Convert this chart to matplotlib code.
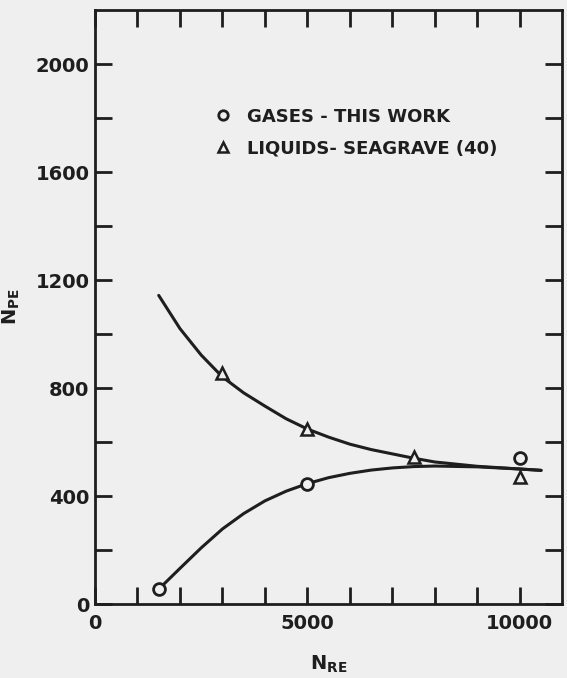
import matplotlib
matplotlib.use("Agg")
import matplotlib.pyplot as plt

# Data
gas_x = [1500, 5000, 10000]
gas_y = [55, 445, 540]
liq_x = [3000, 5000, 7500, 10000]
liq_y = [856, 648, 543, 471]

# Hand-drawn curves
upper_x = [1500, 2000, 2500, 3000, 3500, 4000, 4500, 5000, 5500, 6000, 6500, 7000, 7500, 8000, 9000, 10000, 10500]
upper_y = [1143, 1020, 922, 841, 782, 733, 686, 648, 618, 592, 572, 556, 540, 526, 510, 500, 495]
lower_x = [1500, 2000, 2500, 3000, 3500, 4000, 4500, 5000, 5500, 6000, 6500, 7000, 7500, 8000, 9000, 10000, 10500]
lower_y = [55, 132, 208, 278, 335, 382, 418, 446, 468, 484, 496, 504, 509, 511, 508, 500, 495]

xticks = [0, 5000, 10000]
yticks = [0, 400, 800, 1200, 1600, 2000]

ink = "#1e1e1e"
bg = "#efefef"
plt.rcParams['font.family'] = ['DejaVu Sans']

fig = plt.figure(figsize=(5.67, 6.78), dpi=100, facecolor=bg)
ax = fig.add_axes([95/567, 1 - 604/678, (561.5 - 95)/567, (604 - 9.5)/678])
ax.set_facecolor(bg)

ax.plot(upper_x, upper_y, color=ink, lw=2.2, solid_capstyle='round',
        solid_joinstyle='round', zorder=2)
ax.plot(lower_x, lower_y, color=ink, lw=2.2, solid_capstyle='round',
        solid_joinstyle='round', zorder=2)

ax.plot(gas_x, gas_y, linestyle='none', marker='o', ms=8.5, mfc=bg, mec=ink, mew=2.0,
        label='GASES - THIS WORK', zorder=3)
ax.plot(liq_x, liq_y, linestyle='none', marker='^', ms=8.5, mfc=bg, mec=ink, mew=1.8,
        label='LIQUIDS- SEAGRAVE (40)', zorder=3)

ax.set_xlim(0, 10980)
ax.set_ylim(0, 2202)

for s in ax.spines.values():
    s.set_color(ink)
    s.set_linewidth(2.0)

ax.set_xticks(xticks)
ax.set_xticks(range(1000, 11000, 1000), minor=True)
ax.set_yticks(yticks)
ax.set_yticks(range(200, 2200, 400), minor=True)
ax.set_xticklabels(['0', '5000', '10000'])
ax.set_yticklabels(['0', '400', '800', '1200', '1600', '2000'])

ax.tick_params(axis='both', which='both', direction='in', top=True, right=True,
               color=ink, width=2.0)
ax.tick_params(axis='both', which='major', length=12, labelsize=14, labelcolor=ink)
ax.tick_params(axis='both', which='minor', length=12)
ax.tick_params(axis='x', which='major', pad=7)
ax.tick_params(axis='y', which='major', pad=4)
for lbl in ax.get_xticklabels() + ax.get_yticklabels():
    lbl.set_fontweight('bold')

ax.set_xlabel(r'N$_{\mathbf{RE}}$', fontsize=14, fontweight='bold', color=ink, labelpad=15)
ax.set_ylabel(r'N$_{\mathbf{PE}}$', fontsize=14, fontweight='bold', color=ink, labelpad=10)

leg = ax.legend(loc='upper left', bbox_to_anchor=(0.225, 0.862), frameon=False,
                handlelength=0.8, handletextpad=0.9, labelspacing=0.75,
                prop={'size': 13, 'weight': 'bold'}, markerscale=0.8)
for t in leg.get_texts():
    t.set_color(ink)

fig.savefig('out.png', dpi=100, facecolor=bg)
